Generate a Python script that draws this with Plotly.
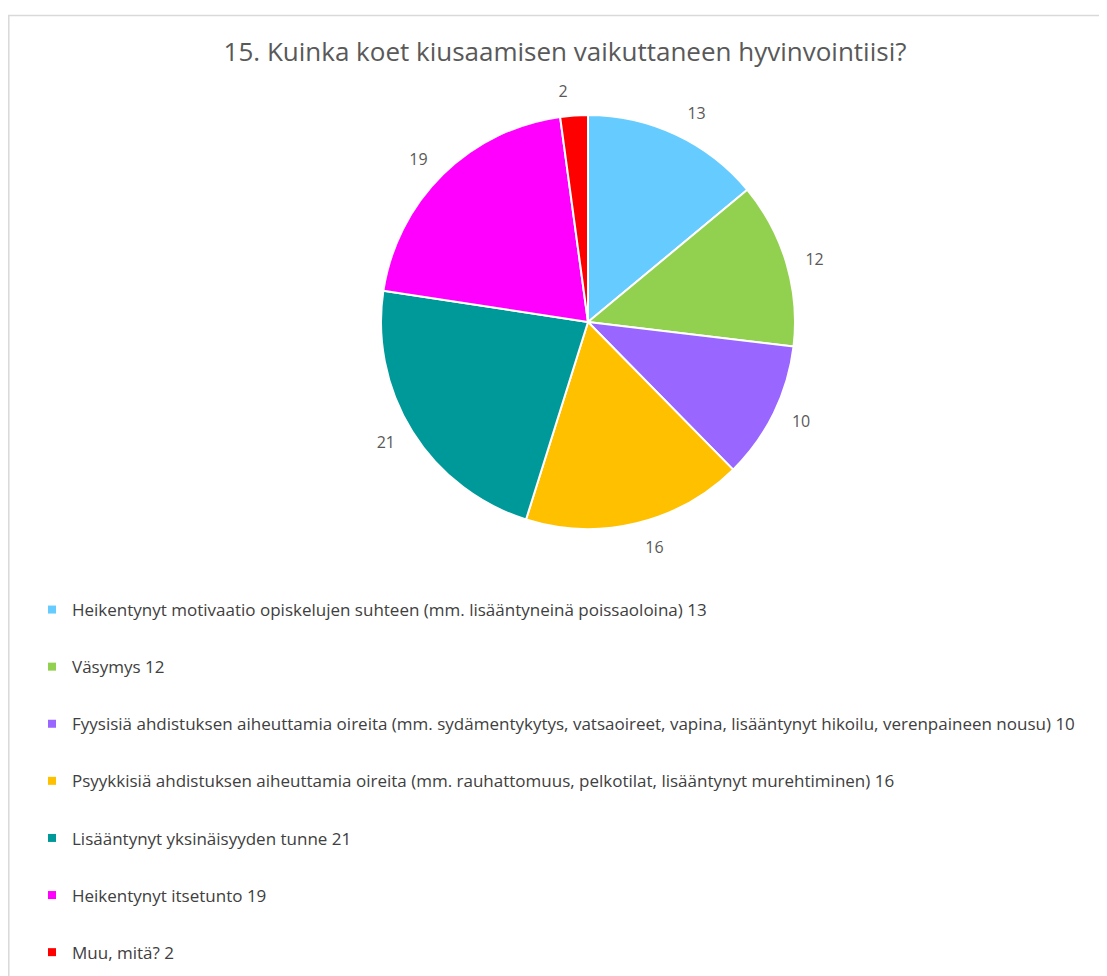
import plotly.graph_objects as go

title = "15. Kuinka koet kiusaamisen vaikuttaneen hyvinvointiisi?"
categories = [
    "Heikentynyt motivaatio opiskelujen suhteen (mm. lisääntyneinä poissaoloina)",
    "Väsymys",
    "Fyysisiä ahdistuksen aiheuttamia oireita (mm. sydämentykytys, vatsaoireet, vapina, lisääntynyt hikoilu, verenpaineen nousu)",
    "Psyykkisiä ahdistuksen aiheuttamia oireita (mm. rauhattomuus, pelkotilat, lisääntynyt murehtiminen)",
    "Lisääntynyt yksinäisyyden tunne",
    "Heikentynyt itsetunto",
    "Muu, mitä?",
]
values = [13, 12, 10, 16, 21, 19, 2]
colors = ["#66CCFF", "#92D050", "#9966FF", "#FFC000", "#009999", "#FF00FF", "#FF0000"]

# page body has an 8px margin, so the figure itself is 8px smaller
W, H = 1099, 968
FONT = "'Open Sans', sans-serif"

cx, cy, r = 580, 314, 207   # pie centre / radius in figure pixels
lab_r = r + 14              # labels sit a bit away from the slices


def dom(radius):
    return dict(
        x=[(cx - radius) / W, (cx + radius) / W],
        y=[1 - (cy + radius) / H, 1 - (cy - radius) / H],
    )


fig = go.Figure()

# invisible, slightly bigger pie that only carries the value labels
fig.add_trace(go.Pie(
    values=values,
    labels=categories,
    sort=False,
    direction="clockwise",
    rotation=0,
    marker=dict(colors=["rgba(0,0,0,0)"] * len(values), line=dict(width=0)),
    textinfo="value",
    textposition="outside",
    textfont=dict(family=FONT, size=16, color="#595959"),
    showlegend=False,
    hoverinfo="skip",
    domain=dom(lab_r),
))

fig.add_trace(go.Pie(
    values=values,
    labels=categories,
    sort=False,
    direction="clockwise",
    rotation=0,
    marker=dict(colors=colors, line=dict(color="white", width=2)),
    textinfo="none",
    showlegend=False,
    hoverinfo="label+value",
    domain=dom(r),
))

# legend entries (one group each so they can be spaced like the original)
for i, (cat, val, col) in enumerate(zip(categories, values, colors)):
    fig.add_trace(go.Scatter(
        x=[None], y=[None], mode="markers",
        marker=dict(symbol="square", size=8, color=col),
        name=f"{cat} {val}",
        legendgroup=f"g{i}",
        showlegend=True,
    ))

fig.update_layout(
    width=W, height=H,
    margin=dict(l=0, r=0, t=0, b=0),
    paper_bgcolor="white",
    plot_bgcolor="white",
    xaxis=dict(visible=False),
    yaxis=dict(visible=False),
    title=dict(
        text=title, x=557 / W, xanchor="center", y=1 - 44 / H, yanchor="middle",
        font=dict(family=FONT, size=26, color="#595959"),
    ),
    legend=dict(
        x=24 / W, xanchor="left", y=1 - 584 / H, yanchor="top",
        font=dict(family=FONT, size=17, color="#404040"),
        tracegroupgap=32,
        itemwidth=30,
        bgcolor="rgba(0,0,0,0)",
    ),
    shapes=[dict(
        type="rect", xref="paper", yref="paper",
        x0=0.8 / W, x1=1.02, y0=-0.02, y1=1 - 7.5 / H,
        line=dict(color="#D9D9D9", width=1.5),
    )],
)

fig.write_html("out.html")
